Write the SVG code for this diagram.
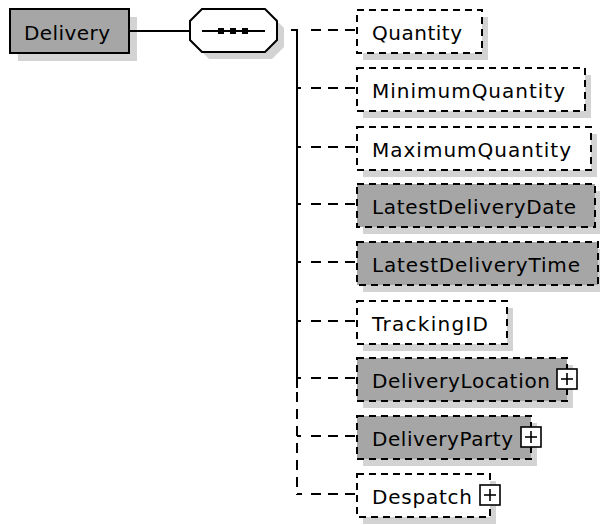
<svg xmlns="http://www.w3.org/2000/svg" width="600" height="525" viewBox="0 0 600 525">
<style>
.bg{fill:#ffffff}
.sh{fill:#d3d3d3}
.opt{fill:#ffffff;stroke:#000;stroke-width:2;stroke-dasharray:7 5}
.optg{fill:#a6a6a6;stroke:#000;stroke-width:2;stroke-dasharray:7 5}
.req{fill:#a6a6a6;stroke:#000;stroke-width:2}
.lbl{font-family:"DejaVu Sans","Verdana",sans-serif;font-size:20px;fill:#000}
.plus{fill:#fff;stroke:#000;stroke-width:1.6}
.pl{stroke:#000;stroke-width:1.6}
.c{stroke:#000;stroke-width:2;fill:none}
.cd{stroke:#000;stroke-width:2;fill:none;stroke-dasharray:10 7}
</style>
<rect class="bg" x="0" y="0" width="600" height="525"/>

<g id="Delivery">
  <rect class="sh" x="18" y="17" width="119" height="44"/>
  <rect class="req" x="10" y="9" width="119" height="44"/>
  <text class="lbl" x="24" y="40" textLength="86" lengthAdjust="spacing">Delivery</text>
</g>

<g id="sequence">
  <polygon class="sh" points="209,16 272,16 284,28 284,47 272,59 209,59 197,47 197,28"/>
  <polygon fill="#fff" stroke="#000" stroke-width="2" points="202,9 265,9 277,21 277,40 265,52 202,52 190,40 190,21"/>
  <line class="c" x1="202" y1="31" x2="265" y2="31"/>
  <rect x="218" y="28" width="6" height="6" fill="#000"/>
  <rect x="230" y="28" width="6" height="6" fill="#000"/>
  <rect x="242" y="28" width="6" height="6" fill="#000"/>
</g>

<g id="Quantity">
  <rect class="sh" x="363" y="17" width="125" height="43"/>
  <rect class="opt" x="357" y="10" width="125" height="43"/>
  <text class="lbl" x="372" y="40" textLength="90" lengthAdjust="spacing">Quantity</text>
</g>

<g id="MinimumQuantity">
  <rect class="sh" x="363" y="75" width="228" height="43"/>
  <rect class="opt" x="357" y="68" width="228" height="43"/>
  <text class="lbl" x="372" y="98" textLength="193" lengthAdjust="spacing">MinimumQuantity</text>
</g>

<g id="MaximumQuantity">
  <rect class="sh" x="363" y="134" width="234" height="43"/>
  <rect class="opt" x="357" y="127" width="234" height="43"/>
  <text class="lbl" x="372" y="157" textLength="199" lengthAdjust="spacing">MaximumQuantity</text>
</g>

<g id="LatestDeliveryDate">
  <rect class="sh" x="363" y="191" width="238" height="43"/>
  <rect class="optg" x="357" y="184" width="238" height="43"/>
  <text class="lbl" x="372" y="214" textLength="204" lengthAdjust="spacing">LatestDeliveryDate</text>
</g>

<g id="LatestDeliveryTime">
  <rect class="sh" x="363" y="249" width="241" height="43"/>
  <rect class="optg" x="357" y="242" width="241" height="43"/>
  <text class="lbl" x="372" y="272" textLength="208" lengthAdjust="spacing">LatestDeliveryTime</text>
</g>

<g id="TrackingID">
  <rect class="sh" x="363" y="308" width="150" height="43"/>
  <rect class="opt" x="357" y="301" width="150" height="43"/>
  <text class="lbl" x="372" y="331" textLength="116" lengthAdjust="spacing">TrackingID</text>
</g>

<g id="DeliveryLocation">
  <rect class="sh" x="363" y="365" width="210" height="43"/>
  <rect class="optg" x="357" y="358" width="210" height="43"/>
  <text class="lbl" x="372" y="388" textLength="178" lengthAdjust="spacing">DeliveryLocation</text>
  <rect class="plus" x="557" y="369" width="20" height="20"/>
  <line class="pl" x1="561" y1="379" x2="573" y2="379"/>
  <line class="pl" x1="567" y1="373" x2="567" y2="385"/>
</g>

<g id="DeliveryParty">
  <rect class="sh" x="363" y="423" width="174" height="43"/>
  <rect class="optg" x="357" y="416" width="174" height="43"/>
  <text class="lbl" x="372" y="446" textLength="141" lengthAdjust="spacing">DeliveryParty</text>
  <rect class="plus" x="521" y="427" width="20" height="20"/>
  <line class="pl" x1="525" y1="437" x2="537" y2="437"/>
  <line class="pl" x1="531" y1="431" x2="531" y2="443"/>
</g>

<g id="Despatch">
  <rect class="sh" x="363" y="481" width="133" height="43"/>
  <rect class="opt" x="357" y="474" width="133" height="43"/>
  <text class="lbl" x="372" y="504" textLength="100" lengthAdjust="spacing">Despatch</text>
  <rect class="plus" x="480" y="485" width="20" height="20"/>
  <line class="pl" x1="484" y1="495" x2="496" y2="495"/>
  <line class="pl" x1="490" y1="489" x2="490" y2="501"/>
</g>

<g id="connectors">
  <line class="c" x1="129" y1="31" x2="190" y2="31"/>
  <line class="c" x1="291" y1="30" x2="297" y2="30"/>
  <line class="c" x1="297" y1="29" x2="297" y2="388"/>
  <line class="cd" x1="297" y1="392" x2="297" y2="495"/>
  <line class="c" x1="297" y1="494" x2="302" y2="494"/>
  <line class="c" x1="297" y1="88" x2="301" y2="88"/>
  <line class="c" x1="297" y1="147" x2="301" y2="147"/>
  <line class="c" x1="297" y1="204" x2="301" y2="204"/>
  <line class="c" x1="297" y1="262" x2="301" y2="262"/>
  <line class="c" x1="297" y1="321" x2="301" y2="321"/>
  <line class="c" x1="297" y1="378" x2="301" y2="378"/>
  <line class="c" x1="297" y1="436" x2="301" y2="436"/>
  <line class="cd" x1="311" y1="30" x2="356" y2="30"/>
  <line class="cd" x1="311" y1="88" x2="356" y2="88"/>
  <line class="cd" x1="311" y1="147" x2="356" y2="147"/>
  <line class="cd" x1="311" y1="204" x2="356" y2="204"/>
  <line class="cd" x1="311" y1="262" x2="356" y2="262"/>
  <line class="cd" x1="311" y1="321" x2="356" y2="321"/>
  <line class="cd" x1="311" y1="378" x2="356" y2="378"/>
  <line class="cd" x1="311" y1="436" x2="356" y2="436"/>
  <line class="cd" x1="311" y1="494" x2="356" y2="494"/>
</g>
</svg>
